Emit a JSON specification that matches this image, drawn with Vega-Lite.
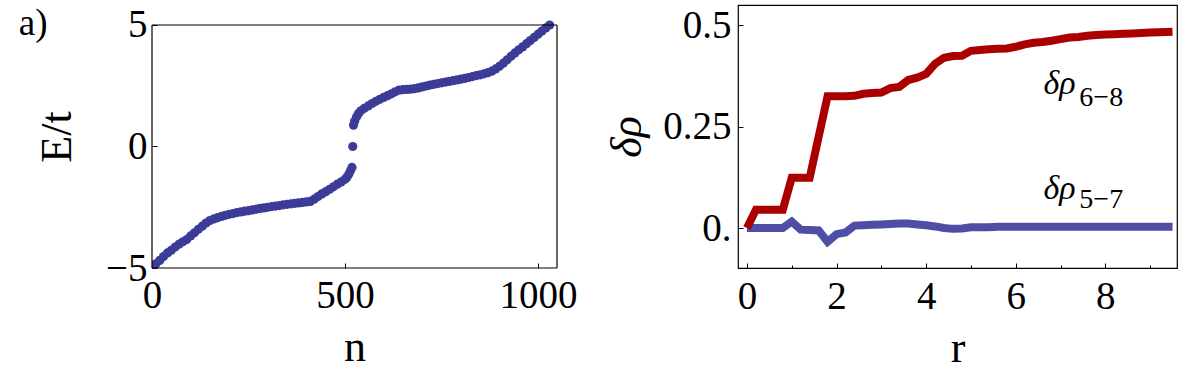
{
  "$schema": "https://vega.github.io/schema/vega-lite/v6.json",
  "background": "white",
  "padding": {"left": 18, "top": 4, "right": 0, "bottom": 0},
  "spacing": 27,
  "config": {
    "font": "Liberation Serif",
    "view": {"stroke": "black", "strokeWidth": 1.2},
    "axis": {
      "domain": false, "grid": false,
      "labelFont": "Liberation Serif", "labelFontSize": 39, "labelColor": "black",
      "titleFont": "Liberation Serif", "titleFontSize": 44, "titleFontWeight": "normal", "titleColor": "black",
      "tickColor": "black", "tickSize": -5, "tickWidth": 1, "labelFlush": false, "labelOverlap": false, "labelBound": false
    }
  },
  "hconcat": [
    {
      "width": 405,
      "height": 263,
      "view": {"stroke": null},
      "layer": [
        {
          "data": {"values": [
            {"n":0,"E":-5.0},{"n":10,"E":-4.83},{"n":20,"E":-4.69},{"n":30,"E":-4.53},{"n":40,"E":-4.38},{"n":50,"E":-4.27},{"n":60,"E":-4.14},{"n":70,"E":-4.02},{"n":80,"E":-3.92},{"n":90,"E":-3.83},
            {"n":100,"E":-3.68},{"n":110,"E":-3.55},{"n":120,"E":-3.41},{"n":130,"E":-3.28},{"n":140,"E":-3.15},{"n":150,"E":-3.05},{"n":160,"E":-2.98},{"n":170,"E":-2.93},{"n":180,"E":-2.88},{"n":190,"E":-2.83},
            {"n":200,"E":-2.79},{"n":210,"E":-2.76},{"n":220,"E":-2.72},{"n":230,"E":-2.69},{"n":240,"E":-2.66},{"n":250,"E":-2.64},{"n":260,"E":-2.61},{"n":270,"E":-2.58},{"n":280,"E":-2.55},{"n":290,"E":-2.53},
            {"n":300,"E":-2.5},{"n":310,"E":-2.47},{"n":320,"E":-2.45},{"n":330,"E":-2.43},{"n":340,"E":-2.4},{"n":350,"E":-2.38},{"n":360,"E":-2.36},{"n":370,"E":-2.34},{"n":380,"E":-2.32},{"n":390,"E":-2.3},
            {"n":400,"E":-2.28},{"n":410,"E":-2.26},{"n":420,"E":-2.17},{"n":430,"E":-2.06},{"n":440,"E":-1.95},{"n":450,"E":-1.86},{"n":460,"E":-1.76},{"n":470,"E":-1.66},{"n":480,"E":-1.55},{"n":490,"E":-1.46},
            {"n":500,"E":-1.35},{"n":505,"E":-1.26},{"n":510,"E":-1.13},{"n":514,"E":-1.0},{"n":518,"E":-0.86},
            {"n":520,"E":0.0},
            {"n":522,"E":0.88},{"n":525,"E":1.05},{"n":530,"E":1.22},{"n":535,"E":1.36},{"n":541,"E":1.47},{"n":550,"E":1.57},{"n":560,"E":1.67},{"n":570,"E":1.77},{"n":580,"E":1.86},{"n":590,"E":1.94},
            {"n":600,"E":2.02},{"n":610,"E":2.09},{"n":620,"E":2.17},{"n":630,"E":2.25},{"n":640,"E":2.32},{"n":650,"E":2.34},{"n":660,"E":2.35},{"n":670,"E":2.36},{"n":680,"E":2.38},{"n":690,"E":2.41},
            {"n":700,"E":2.45},{"n":710,"E":2.49},{"n":720,"E":2.53},{"n":730,"E":2.56},{"n":740,"E":2.59},{"n":750,"E":2.62},{"n":760,"E":2.65},{"n":770,"E":2.68},{"n":780,"E":2.71},{"n":790,"E":2.74},
            {"n":800,"E":2.77},{"n":810,"E":2.8},{"n":820,"E":2.84},{"n":830,"E":2.88},{"n":840,"E":2.92},{"n":850,"E":2.95},{"n":860,"E":2.99},{"n":870,"E":3.04},{"n":880,"E":3.1},{"n":890,"E":3.19},
            {"n":900,"E":3.3},{"n":910,"E":3.43},{"n":920,"E":3.57},{"n":930,"E":3.71},{"n":940,"E":3.85},{"n":950,"E":3.98},{"n":960,"E":4.1},{"n":970,"E":4.23},{"n":980,"E":4.36},{"n":990,"E":4.49},
            {"n":1000,"E":4.62},{"n":1010,"E":4.75},{"n":1020,"E":4.88},{"n":1030,"E":5.0}
          ]},
          "mark": {"type": "circle", "size": 85, "opacity": 1, "color": "#3c3c98", "clip": true},
          "encoding": {
            "x": {"field": "n", "type": "quantitative", "scale": {"domain": [0, 1049], "nice": false, "zero": false},
                  "axis": {"title": "n", "values": [0, 500, 1000], "format": "d", "labelFont": "Liberation Serif", "labelPadding": 13, "titlePadding": 10}},
            "y": {"field": "E", "type": "quantitative", "scale": {"domain": [-5, 5.823], "nice": false, "zero": false},
                  "axis": {"title": "E/t", "values": [-5, 0, 5], "format": "d", "labelFont": "Liberation Serif", "labelPadding": 10, "titlePadding": 26}}
          }
        },
        {
          "data": {"values": [{"edge": "frame"}]},
          "mark": {"type": "rule", "color": "black", "strokeWidth": 1.2},
          "encoding": {"x": {"datum": 0}, "x2": {"datum": 1049}, "y": {"datum": 5}}
        },
        {
          "data": {"values": [{"edge": "frame"}]},
          "mark": {"type": "rule", "color": "black", "strokeWidth": 1.2},
          "encoding": {"x": {"datum": 0}, "x2": {"datum": 1049}, "y": {"datum": -5}}
        },
        {
          "data": {"values": [{"edge": "frame"}]},
          "mark": {"type": "rule", "color": "black", "strokeWidth": 1.2},
          "encoding": {"x": {"datum": 0}, "y": {"datum": -5}, "y2": {"datum": 5}}
        },
        {
          "data": {"values": [{"edge": "frame"}]},
          "mark": {"type": "rule", "color": "black", "strokeWidth": 1.2},
          "encoding": {"x": {"datum": 1049}, "y": {"datum": -5}, "y2": {"datum": 5}}
        },
        {
          "data": {"values": [{"n": -345, "E": 4.6, "label": "a)"}]},
          "mark": {"type": "text", "align": "left", "baseline": "alphabetic", "fontSize": 37, "font": "Liberation Serif", "color": "black"},
          "encoding": {
            "x": {"field": "n", "type": "quantitative"},
            "y": {"field": "E", "type": "quantitative"},
            "text": {"field": "label"}
          }
        }
      ]
    },
    {
      "width": 439,
      "height": 263,
      "layer": [
        {
          "data": {"values": [
            {"r":0,"v":0},{"r":0.2,"v":0},{"r":0.4,"v":0},{"r":0.6,"v":0},{"r":0.8,"v":0},{"r":1.0,"v":0.016},{"r":1.2,"v":-0.004},{"r":1.4,"v":-0.005},{"r":1.6,"v":-0.006},{"r":1.8,"v":-0.034},
            {"r":2.0,"v":-0.015},{"r":2.2,"v":-0.011},{"r":2.4,"v":0.006},{"r":2.6,"v":0.007},{"r":2.8,"v":0.008},{"r":3.0,"v":0.009},{"r":3.2,"v":0.01},{"r":3.4,"v":0.011},{"r":3.6,"v":0.011},{"r":3.8,"v":0.009},
            {"r":4.0,"v":0.007},{"r":4.2,"v":0.004},{"r":4.4,"v":0.0},{"r":4.6,"v":-0.002},{"r":4.8,"v":-0.001},{"r":5.0,"v":0.002},{"r":5.2,"v":0.002},{"r":5.4,"v":0.002},{"r":5.6,"v":0.003},{"r":5.8,"v":0.003},
            {"r":6.0,"v":0.003},{"r":6.2,"v":0.003},{"r":6.4,"v":0.003},{"r":6.6,"v":0.003},{"r":6.8,"v":0.003},{"r":7.0,"v":0.003},{"r":7.2,"v":0.003},{"r":7.4,"v":0.003},{"r":7.6,"v":0.003},{"r":7.8,"v":0.003},
            {"r":8.0,"v":0.003},{"r":8.2,"v":0.003},{"r":8.4,"v":0.003},{"r":8.6,"v":0.003},{"r":8.8,"v":0.003},{"r":9.0,"v":0.003},{"r":9.2,"v":0.003},{"r":9.5,"v":0.003}
          ]},
          "mark": {"type": "line", "color": "#4545a0", "strokeWidth": 8, "opacity": 0.95},
          "encoding": {
            "x": {"field": "r", "type": "quantitative", "scale": {"domain": [-0.2, 9.6], "nice": false, "zero": false},
                  "axis": {"title": "r", "values": [0,0.5,1,1.5,2,2.5,3,3.5,4,4.5,5,5.5,6,6.5,7,7.5,8,8.5,9,9.5],
                           "format": "d", "labelFont": "Liberation Serif",
                           "labelExpr": "datum.value % 2 == 0 ? datum.label : ''",
                           "tickSize": {"condition": {"test": "datum.value % 2 == 0", "value": -5}, "value": -3},
                           "labelPadding": 14, "titlePadding": 8}},
            "y": {"field": "v", "type": "quantitative", "scale": {"domain": [-0.0985, 0.55], "nice": false, "zero": false},
                  "axis": {"title": "δρ", "titleFontStyle": "italic", "values": [0, 0.25, 0.5], "format": ".2~f", "labelFont": "Liberation Serif",
                           "labelExpr": "datum.value == 0 ? '0.' : datum.label", "labelPadding": 12, "titlePadding": 13}}
          }
        },
        {
          "mark": {"type": "rule", "color": "black", "strokeWidth": 1.2},
          "encoding": {"y": {"datum": 0}}
        },
        {
          "mark": {"type": "rule", "color": "#333333", "strokeWidth": 1, "strokeDash": [4, 3]},
          "encoding": {"y": {"datum": 0.5}}
        },
        {
          "data": {"values": [
            {"r":0,"v":0},{"r":0.2,"v":0.045},{"r":0.4,"v":0.045},{"r":0.6,"v":0.045},{"r":0.8,"v":0.045},{"r":1.0,"v":0.124},{"r":1.2,"v":0.124},{"r":1.4,"v":0.124},{"r":1.6,"v":0.225},{"r":1.8,"v":0.325},
            {"r":2.0,"v":0.325},{"r":2.2,"v":0.325},{"r":2.4,"v":0.326},{"r":2.6,"v":0.331},{"r":2.8,"v":0.333},{"r":3.0,"v":0.334},{"r":3.2,"v":0.345},{"r":3.4,"v":0.348},{"r":3.6,"v":0.365},{"r":3.8,"v":0.371},
            {"r":4.0,"v":0.38},{"r":4.2,"v":0.405},{"r":4.4,"v":0.42},{"r":4.6,"v":0.424},{"r":4.8,"v":0.425},{"r":5.0,"v":0.437},{"r":5.2,"v":0.439},{"r":5.4,"v":0.441},{"r":5.6,"v":0.442},{"r":5.8,"v":0.443},
            {"r":6.0,"v":0.447},{"r":6.2,"v":0.453},{"r":6.4,"v":0.457},{"r":6.6,"v":0.459},{"r":6.8,"v":0.462},{"r":7.0,"v":0.466},{"r":7.2,"v":0.47},{"r":7.4,"v":0.471},{"r":7.6,"v":0.474},{"r":7.8,"v":0.476},
            {"r":8.0,"v":0.477},{"r":8.2,"v":0.478},{"r":8.4,"v":0.479},{"r":8.6,"v":0.48},{"r":8.8,"v":0.481},{"r":9.0,"v":0.482},{"r":9.2,"v":0.483},{"r":9.5,"v":0.484}
          ]},
          "mark": {"type": "line", "color": "#aa0000", "strokeWidth": 8},
          "encoding": {
            "x": {"field": "r", "type": "quantitative"},
            "y": {"field": "v", "type": "quantitative"}
          }
        },
        {
          "data": {"values": [
            {"r": 6.62, "v": 0.33, "t": "δρ"},
            {"r": 6.62, "v": 0.0715, "t": "δρ"}
          ]},
          "mark": {"type": "text", "align": "left", "baseline": "alphabetic", "fontSize": 34, "fontStyle": "italic", "font": "Liberation Serif", "color": "black"},
          "encoding": {
            "x": {"field": "r", "type": "quantitative"},
            "y": {"field": "v", "type": "quantitative"},
            "text": {"field": "t"}
          }
        },
        {
          "data": {"values": [
            {"r": 7.42, "v": 0.301, "t": "6−8"},
            {"r": 7.42, "v": 0.05, "t": "5−7"}
          ]},
          "mark": {"type": "text", "align": "left", "baseline": "alphabetic", "fontSize": 28, "font": "Liberation Serif", "color": "black"},
          "encoding": {
            "x": {"field": "r", "type": "quantitative"},
            "y": {"field": "v", "type": "quantitative"},
            "text": {"field": "t"}
          }
        }
      ]
    }
  ]
}
